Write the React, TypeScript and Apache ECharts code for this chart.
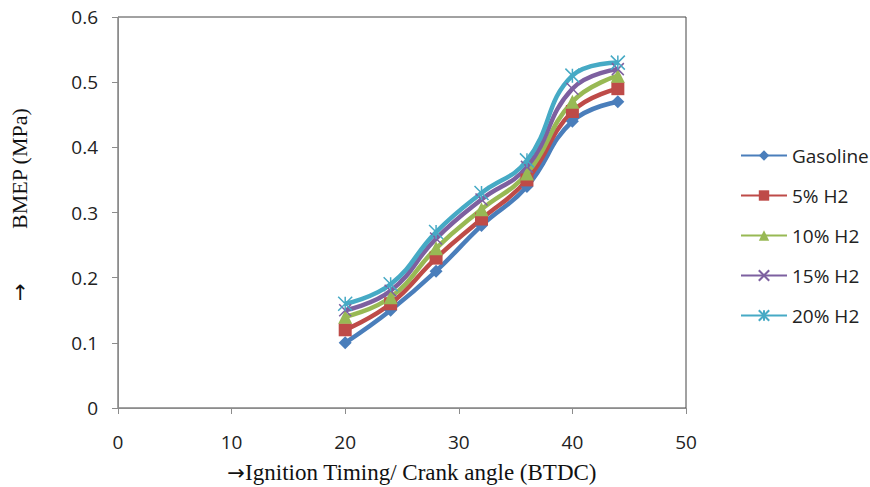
import React, { useEffect, useRef } from "react";
import * as echarts from "echarts";

const xValues = [20, 24, 28, 32, 36, 40, 44];
const seriesNames = ["Gasoline", "5% H2", "10% H2", "15% H2", "20% H2"];
const gasoline = [0.10, 0.15, 0.21, 0.28, 0.34, 0.44, 0.47];
const h2_5 = [0.12, 0.16, 0.23, 0.29, 0.35, 0.455, 0.49];
const h2_10 = [0.14, 0.17, 0.245, 0.305, 0.36, 0.47, 0.51];
const h2_15 = [0.15, 0.18, 0.26, 0.32, 0.37, 0.49, 0.52];
const h2_20 = [0.16, 0.19, 0.27, 0.33, 0.38, 0.51, 0.53];
const seriesValues = [gasoline, h2_5, h2_10, h2_15, h2_20];
const colors = ["#4A7EBB", "#BE4B48", "#98B954", "#7D60A0", "#46AAC5"];
const symbols = [
  "diamond",
  "rect",
  "triangle",
  "path://M0,0L10,10M10,0L0,10",
  "path://M5,0L5,10M0,0L10,10M10,0L0,10",
];
const symbolSizes = [13, 13, 14, 12, 14];

export default function App() {
  const ref = useRef<HTMLDivElement>(null);
  useEffect(() => {
    if (!ref.current) return;
    const chart = echarts.init(ref.current, undefined, { renderer: "svg" });
    const series = seriesNames.map((name, i) => {
      const isPath = i >= 3;
      return {
        name,
        type: "line",
        smooth: 0.45,
        data: xValues.map((x, j) => [x, seriesValues[i][j]]),
        symbol: symbols[i],
        symbolSize: symbolSizes[i],
        showAllSymbol: true,
        lineStyle: { color: colors[i], width: 4.5 },
        itemStyle: isPath
          ? { color: colors[i], borderColor: colors[i], borderWidth: 1.5 }
          : { color: colors[i], borderWidth: 0 },
      };
    });
    chart.setOption({
      animation: false,
      backgroundColor: "#ffffff",
      grid: {
        left: 118,
        right: 184,
        top: 17,
        bottom: 79,
        outerBoundsMode: "none",
        containLabel: false,
        show: true,
        borderColor: "#444",
        borderWidth: 1,
      },
      legend: {
        orient: "vertical",
        left: 735,
        top: 141,
        itemWidth: 46,
        itemHeight: 13,
        itemGap: 21,
        textStyle: { fontFamily: "Open Sans", fontSize: 19, color: "#222" },
        data: seriesNames,
      },
      xAxis: {
        type: "value",
        min: 0,
        max: 50,
        interval: 10,
        name: "{a|\u2192}{b|Ignition Timing/ Crank angle (BTDC)}",
        nameLocation: "middle",
        nameGap: 53,
        nameTextStyle: {
          fontFamily: "Liberation Serif",
          fontSize: 23,
          color: "#111",
          padding: [0, 0, 0, 20],
          rich: {
            a: { fontFamily: "DejaVu Sans", fontSize: 21, color: "#111" },
            b: { fontFamily: "Liberation Serif", fontSize: 23, color: "#111" },
          },
        },
        axisLine: { show: true, lineStyle: { color: "#8c8c8c", width: 1 } },
        axisTick: { show: true, length: 6, lineStyle: { color: "#8c8c8c" } },
        axisLabel: {
          margin: 24,
          fontFamily: "Open Sans",
          fontSize: 19,
          color: "#222",
        },
        splitLine: { show: false },
      },
      yAxis: {
        type: "value",
        min: 0,
        max: 0.6,
        interval: 0.1,
        axisLine: { show: true, lineStyle: { color: "#8c8c8c", width: 1 } },
        axisTick: { show: true, length: 6, lineStyle: { color: "#8c8c8c" } },
        axisLabel: {
          margin: 20,
          fontFamily: "Open Sans",
          fontSize: 19,
          color: "#222",
        },
        splitLine: { show: false },
      },
      graphic: [
        {
          type: "text",
          x: 8,
          y: 229,
          rotation: Math.PI / 2,
          style: {
            text: "BMEP (MPa)",
            fontFamily: "Liberation Serif",
            fontSize: 22,
            fill: "#111",
          },
        },
        {
          type: "text",
          x: 9,
          y: 301,
          rotation: Math.PI / 2,
          style: {
            text: "\u2192",
            fontFamily: "DejaVu Sans",
            fontSize: 21,
            fill: "#111",
          },
        },
      ],
      series,
    });
    return () => chart.dispose();
  }, []);
  return (
    <div
      ref={ref}
      style={{ position: "fixed", left: 0, top: 0, width: 870, height: 487 }}
    />
  );
}
